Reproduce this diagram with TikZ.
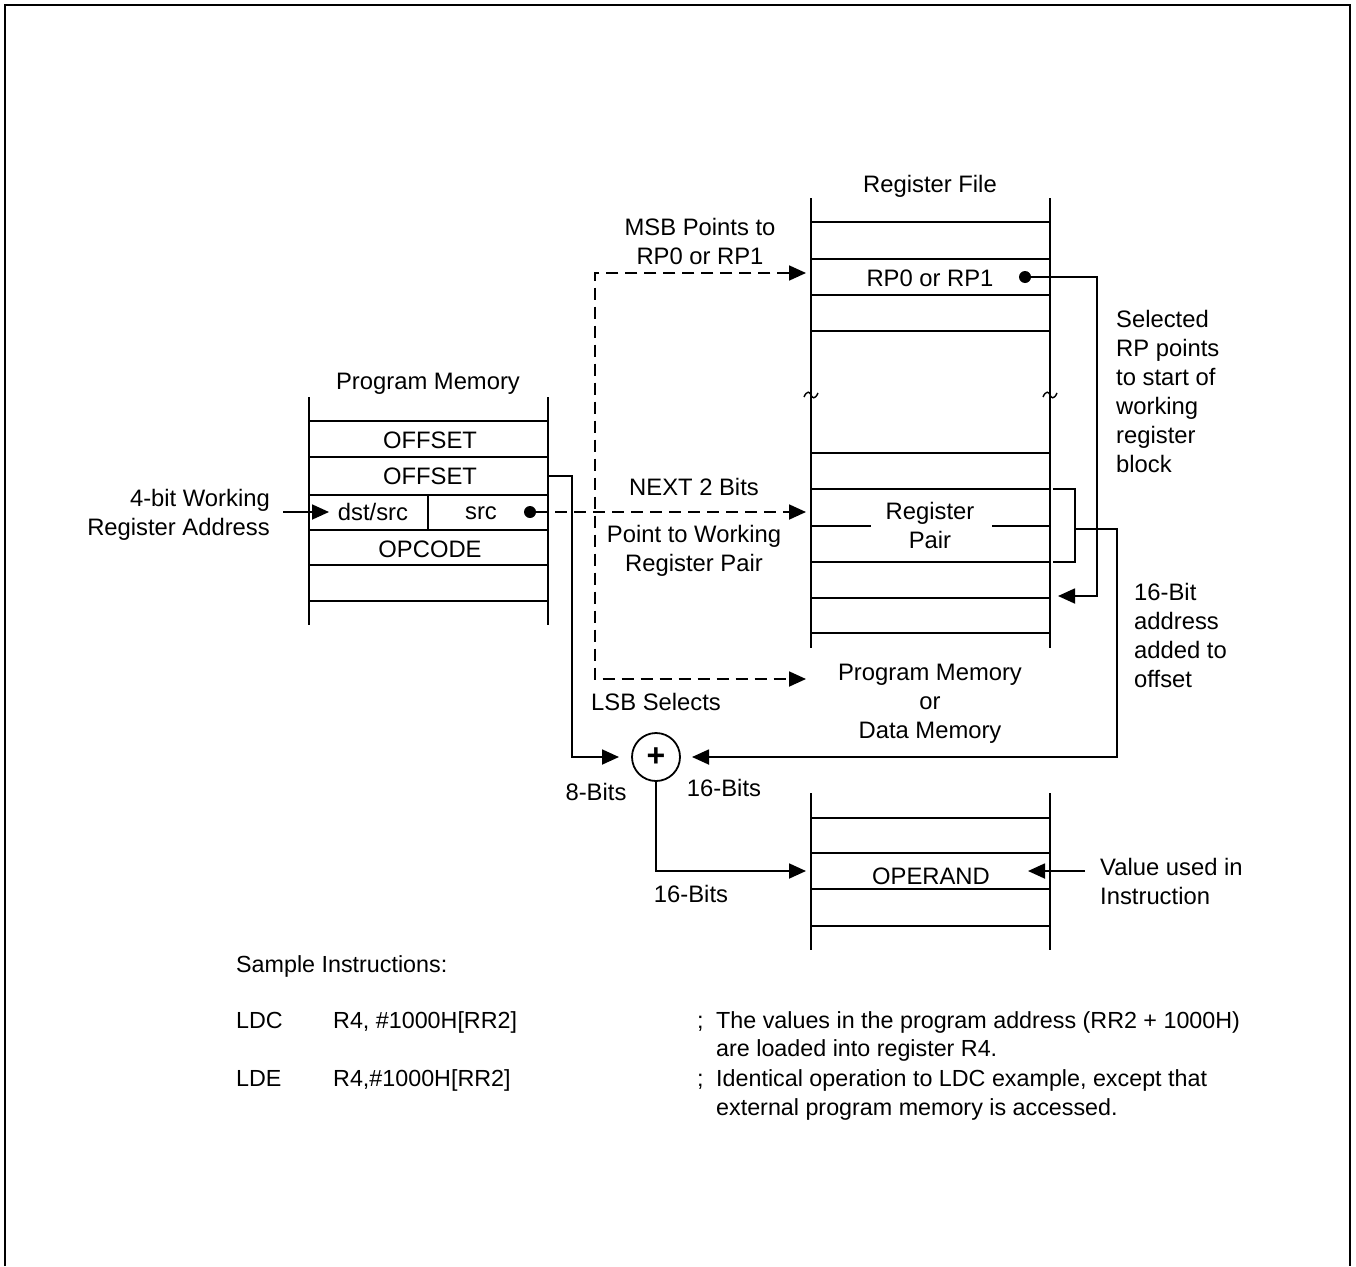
\documentclass[tikz,border=0pt]{standalone}
\usepackage{fontspec}
\setmainfont{Liberation Sans}
\usetikzlibrary{arrows.meta}
\begin{document}
\begin{tikzpicture}[x=1pt,y=-1pt,
  ln/.style={line width=1.8pt},
  dsh/.style={line width=1.8pt, dash pattern=on 12pt off 7pt},
  tip/.style={-{Triangle[length=17pt,width=15pt]}},
  tips/.style={{Triangle[length=17pt,width=15pt]}-{Triangle[length=17pt,width=15pt]}},
  lbl/.style={font=\fontsize{23.8}{29}\selectfont, inner sep=0pt, align=center},
  lbll/.style={font=\fontsize{23.8}{29}\selectfont, inner sep=0pt, align=left},
  lblr/.style={font=\fontsize{23.8}{29}\selectfont, inner sep=0pt, align=right},
  txt/.style={font=\fontsize{23.3}{29}\selectfont, inner sep=0pt, anchor=base west},
  dot/.style={circle, fill=black, inner sep=0pt, minimum size=12pt},
  brk/.style={line width=1.4pt},
]
\useasboundingbox (0,0) rectangle (1356,1266);
% frame
\draw[line width=2pt] (5,1266) -- (5,5) -- (1350,5) -- (1350,1266);

% ---------------- Register file ----------------
\draw[ln] (811,198) -- (811,648);
\draw[ln] (1050,198) -- (1050,648);
\foreach \y in {222,259,295,331,453,489,562,598,633} \draw[ln] (811,\y) -- (1050,\y);
\draw[ln] (811,526) -- (871,526);
\draw[ln] (992,526) -- (1050,526);
% break marks
\draw[brk] (804,397) .. controls (807,390) and (810,392) .. (811,395) .. controls (812,398) and (815,400) .. (818,393);
\draw[brk] (1043,397) .. controls (1046,390) and (1049,392) .. (1050,395) .. controls (1051,398) and (1054,400) .. (1057,393);
\node[lbl] (rftitle) at (930,186) {Register File};
\node[lbl] (rp) at (930,278) {RP0 or RP1};
\node[dot] (rpdot) at (1025,277) {};
\node[lbl] (regpair) at (930,525) {Register\\Pair};

% ---------------- Program memory ----------------
\draw[ln] (309,397) -- (309,625);
\draw[ln] (548,397) -- (548,625);
\foreach \y in {421,457,495,530,565,601} \draw[ln] (309,\y) -- (548,\y);
\draw[ln] (428,495) -- (428,530);
\node[lbl] (pmtitle) at (428,384) {Program Memory};
\node[lbl] (off1) at (430,440) {OFFSET};
\node[lbl] (off2) at (430,476) {OFFSET};
\node[lbl] (dstsrc) at (373,512) {dst/src};
\node[lbl] (src) at (481,513) {src};
\node[dot] (srcdot) at (530,512) {};
\node[lbl] (opcode) at (430,549) {OPCODE};
\node[lblr, anchor=east] (wra) at (270,515) {4-bit Working\\Register Address};

% ---------------- Operand memory ----------------
\draw[ln] (811,793) -- (811,950);
\draw[ln] (1050,793) -- (1050,950);
\foreach \y in {818,853,889,926} \draw[ln] (811,\y) -- (1050,\y);
\node[lbl] (operand) at (931,876) {OPERAND};

% ---------------- labels ----------------
\node[lbl] (msb) at (700,241) {MSB Points to\\RP0 or RP1};
\node[lbl] (next) at (694,487) {NEXT 2 Bits};
\node[lbl] (ptw) at (694,551) {Point to Working\\Register Pair};
\node[lbl] (lsb) at (656,702) {LSB Selects};
\node[lbl] (pmdm) at (930,704) {Program Memory\\or\\Data Memory};
\node[lbll, anchor=west] (selrp) at (1116,391) {Selected\\RP points\\to start of\\working\\register\\block};
\node[lbll, anchor=west] (addr16) at (1134,635) {16-Bit\\address\\added to\\offset};
\node[lbll, anchor=west] (valused) at (1100,881) {Value used in\\Instruction};
\node[lbl] (b8) at (596,792) {8-Bits};
\node[lbl] (b16a) at (724,788) {16-Bits};
\node[lbl] (b16b) at (691,894) {16-Bits};

% ---------------- adder ----------------
\node[circle, draw, line width=1.8pt, minimum size=48pt, inner sep=0pt,
      font=\fontsize{32}{32}\selectfont\bfseries] (add) at (656,757) {+};

% ---------------- coordinates ----------------
\coordinate (wrastart) at (283,512);
\coordinate (wratip) at (329,512);
\coordinate (nexttip) at (806,512);
\coordinate (msbtip) at (806,273);
\coordinate (lsbtip) at (806,679);
\coordinate (j1) at (595,273);
\coordinate (j2) at (595,679);
\coordinate (offout) at (548,476);
\coordinate (offc1) at (572,476);
\coordinate (offc2) at (572,757);
\coordinate (addLtip) at (619,757);
\coordinate (addRtip) at (692,757);
\coordinate (rpc1) at (1097,277);
\coordinate (rpc2) at (1097,596);
\coordinate (wbtip) at (1058,596);
\coordinate (br1) at (1053,489);
\coordinate (br2) at (1075,489);
\coordinate (br3) at (1075,562);
\coordinate (br4) at (1053,562);
\coordinate (brm) at (1075,529);
\coordinate (a16c1) at (1117,529);
\coordinate (a16c2) at (1117,757);
\coordinate (addbot) at (656,871);
\coordinate (optip) at (806,871);
\coordinate (valstart) at (1085,871);
\coordinate (valtip) at (1028,871);

% ---------------- connectors ----------------
\draw[ln,tip] (wrastart) -- (wratip);
\draw[dsh,tip] (srcdot) -- (nexttip);
\draw[dsh,tips] (msbtip) -- (j1) -- (j2) -- (lsbtip);
\draw[ln,tip] (offout) -- (offc1) -- (offc2) -- (addLtip);
\draw[ln,tip] (rpdot) -- (rpc1) -- (rpc2) -- (wbtip);
\draw[ln] (br1) -- (br2) -- (br3) -- (br4);
\draw[ln,tip] (brm) -- (a16c1) -- (a16c2) -- (addRtip);
\draw[ln,tip] (add.south) -- (addbot) -- (optip);
\draw[ln,tip] (valstart) -- (valtip);

% ---------------- sample instructions ----------------
\node[txt] (samp) at (236,972) {Sample Instructions:};
\node[txt] (ldc) at (236,1028) {LDC};
\node[txt] (ldcop) at (333,1028) {R4, \#1000H[RR2]};
\node[txt] (ldcsemi) at (697,1028) {;};
\node[txt] (ldcc1) at (716,1028) {The values in the program address (RR2 + 1000H)};
\node[txt] (ldcc2) at (716,1056) {are loaded into register R4.};
\node[txt] (lde) at (236,1086) {LDE};
\node[txt] (ldeop) at (333,1086) {R4,\#1000H[RR2]};
\node[txt] (ldesemi) at (697,1086) {;};
\node[txt] (ldec1) at (716,1086) {Identical operation to LDC example, except that};
\node[txt] (ldec2) at (716,1115) {external program memory is accessed.};
\end{tikzpicture}
\end{document}
